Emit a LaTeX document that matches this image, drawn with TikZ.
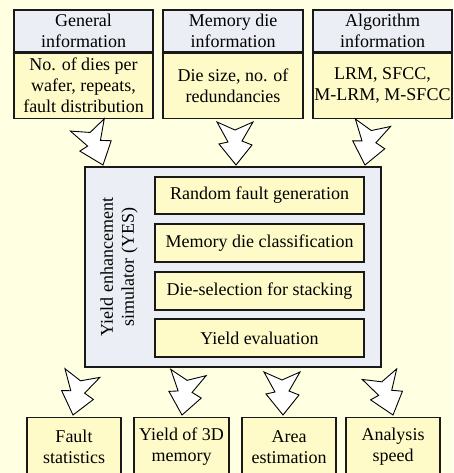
\documentclass[tikz,border=0pt]{standalone}
\usepackage{fontspec}
\setmainfont{Liberation Serif}
\definecolor{pagebg}{RGB}{255,255,225}
\definecolor{headfill}{RGB}{236,238,245}
\definecolor{bodyfill}{RGB}{255,251,200}
\definecolor{edge}{RGB}{25,25,25}
\begin{document}
\begin{tikzpicture}[x=1pt,y=-1pt,
  every node/.style={font=\fontsize{18}{21}\selectfont, align=center, inner sep=0pt},
  boxline/.style={draw=edge, line width=1.1pt},
  headbox/.style={boxline, fill=headfill},
  bodybox/.style={boxline, fill=bodyfill},
  bolt/.style={draw=black, fill=white, line width=0.9pt, line join=miter},
  % block arrow with a notched tail and tapered shaft; tip at the origin, pointing down
  zigarrow/.pic={
    \path[bolt] (-19,-43) -- (-1,-35) -- (17,-43) -- (6,-24) -- (16,-20)
      -- (0,0) -- (-17,-21) -- (-8,-23) -- cycle;
  }]
\useasboundingbox (0,0) rectangle (453,473);
\clip (0,0) rectangle (453,473);
\fill[pagebg] (0,0) rectangle (453,473);

% input panels: header over body
\node[headbox, minimum width=139pt, minimum height=42pt] (h1) at (83.5,31) {General\\information};
\node[bodybox, minimum width=139pt, minimum height=65pt, anchor=north] (b1) at (h1.south) {No. of dies per\\wafer, repeats,\\fault distribution};
\node[headbox, minimum width=140pt, minimum height=42pt] (h2) at (233,31) {Memory die\\information};
\node[bodybox, minimum width=140pt, minimum height=65pt, anchor=north] (b2) at (h2.south) {Die size, no. of\\redundancies};
\node[headbox, minimum width=139pt, minimum height=42pt] (h3) at (382.5,31) {Algorithm\\information};
\node[bodybox, minimum width=139pt, minimum height=65pt, anchor=north] (b3) at (h3.south) {LRM, SFCC,\\M-LRM, M-SFCC};

% simulator block
\node[headbox, minimum width=296pt, minimum height=200pt] (yes) at (233,267) {};
\node[rotate=90] (yeslabel) at (119,267) {Yield enhancement\\simulator (YES)};
\node[bodybox, minimum width=209pt, minimum height=37pt] (s1) at (259.5,195.5) {Random fault generation};
\node[bodybox, minimum width=209pt, minimum height=38pt] (s2) at (259.5,243) {Memory die classification};
\node[bodybox, minimum width=209pt, minimum height=38pt] (s3) at (259.5,291) {Die-selection for stacking};
\node[bodybox, minimum width=209pt, minimum height=38pt] (s4) at (259.5,338) {Yield evaluation};

% outputs
\node[bodybox, minimum width=94pt, minimum height=70pt, anchor=north] (o1) at (74,417) {};
\node[bodybox, minimum width=95pt, minimum height=70pt, anchor=north] (o2) at (181.5,417) {};
\node[bodybox, minimum width=94pt, minimum height=70pt, anchor=north] (o3) at (289,417) {};
\node[bodybox, minimum width=94pt, minimum height=70pt, anchor=north] (o4) at (393,417) {};
\node (t1) at (74,447) {Fault\\statistics};
\node (t2) at (181.5,447) {Yield of 3D\\memory};
\node (t3) at (289,447) {Area\\estimation};
\node (t4) at (393,447) {Analysis\\speed};

% block arrows between stages
\pic[rotate=20] at (103,165) {zigarrow};
\pic at (236,165) {zigarrow};
\pic[rotate=-12] at (365,165) {zigarrow};
\pic[rotate=-14] at (73,415) {zigarrow};
\pic[rotate=-10] at (182,415) {zigarrow};
\pic[rotate=0] at (283,415) {zigarrow};
\pic[rotate=17] at (393,415) {zigarrow};
\end{tikzpicture}
\end{document}
